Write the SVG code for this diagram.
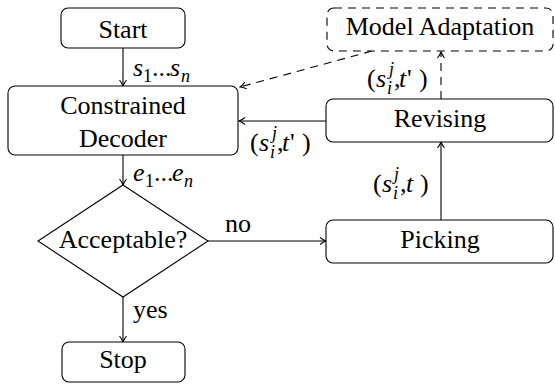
<svg xmlns="http://www.w3.org/2000/svg" width="555" height="385" viewBox="0 0 555 385" font-family="Liberation Serif" font-size="26">
<defs>
<marker id="arr" markerUnits="userSpaceOnUse" viewBox="-8 -5 9 10" markerWidth="9" markerHeight="10" refX="0" refY="0" orient="auto">
<path d="M-6,-3.5 Q-2.5,-0.8 0,0 Q-2.5,0.8 -6,3.5" fill="none" stroke="#000" stroke-width="1.1"/>
</marker>
</defs>
<rect width="555" height="385" fill="#fff"/>
<g id="connectors" fill="none" stroke="#000" stroke-width="1.1">
<line x1="123" y1="48" x2="123" y2="86" marker-end="url(#arr)"/>
<line x1="123" y1="155" x2="123" y2="185" marker-end="url(#arr)"/>
<line x1="123" y1="297" x2="123" y2="342" marker-end="url(#arr)"/>
<line x1="208" y1="241" x2="326" y2="241" marker-end="url(#arr)"/>
<line x1="441" y1="220" x2="441" y2="142" marker-end="url(#arr)"/>
<line x1="326" y1="121" x2="239" y2="121" marker-end="url(#arr)"/>
<line x1="441" y1="99" x2="441" y2="52" stroke-dasharray="8 6" marker-end="url(#arr)"/>
<line x1="372" y1="51" x2="240" y2="87" stroke-dasharray="8 6" marker-end="url(#arr)"/>
</g>
<g id="labels" fill="#000">
<text x="133" y="76" font-style="italic">s</text>
<text x="143" y="82" font-size="18">1</text>
<text x="152" y="76">...</text>
<text x="170" y="76" font-style="italic">s</text>
<text x="181" y="82" font-size="18" font-style="italic">n</text>
<text x="133" y="181" font-style="italic">e</text>
<text x="145" y="187" font-size="18">1</text>
<text x="154" y="181">...</text>
<text x="172" y="181" font-style="italic">e</text>
<text x="184" y="187" font-size="18" font-style="italic">n</text>
<text x="225" y="232">no</text>
<text x="133" y="318">yes</text>
<text x="373" y="192">(</text>
<text x="382" y="192" font-style="italic">s</text>
<text x="394" y="180" font-size="18" font-style="italic">j</text>
<text x="393" y="199" font-size="18" font-style="italic">i</text>
<text x="400" y="192">,</text>
<text x="406" y="192" font-style="italic">t</text>
<text x="420" y="192">)</text>
<text x="250" y="151">(</text>
<text x="259" y="151" font-style="italic">s</text>
<text x="272" y="139" font-size="18" font-style="italic">j</text>
<text x="270" y="158" font-size="18" font-style="italic">i</text>
<text x="277" y="151">,</text>
<text x="282" y="151" font-style="italic">t</text>
<text x="290" y="151">'</text>
<text x="302" y="151">)</text>
<text x="367" y="87">(</text>
<text x="376" y="87" font-style="italic">s</text>
<text x="389" y="75" font-size="18" font-style="italic">j</text>
<text x="387" y="94" font-size="18" font-style="italic">i</text>
<text x="394" y="87">,</text>
<text x="399" y="87" font-style="italic">t</text>
<text x="407" y="87">'</text>
<text x="419" y="87">)</text>
</g>
<g id="start">
<rect x="61" y="8" width="124" height="40" rx="7" fill="#fff" stroke="#000" stroke-width="1.1"/>
<text x="123" y="38" text-anchor="middle">Start</text>
</g>
<g id="decoder">
<rect x="8" y="86" width="230" height="69" rx="7" fill="#fff" stroke="#000" stroke-width="1.1"/>
<text x="123" y="114" text-anchor="middle">Constrained</text>
<text x="123" y="147" text-anchor="middle">Decoder</text>
</g>
<g id="decision">
<polygon points="123,185 208,241 123,297 38,241" fill="#fff" stroke="#000" stroke-width="1.1"/>
<text x="123" y="248" text-anchor="middle">Acceptable?</text>
</g>
<g id="stop">
<rect x="62" y="342" width="123" height="40" rx="7" fill="#fff" stroke="#000" stroke-width="1.1"/>
<text x="123" y="368" text-anchor="middle">Stop</text>
</g>
<g id="picking">
<rect x="326" y="220" width="227" height="43" rx="7" fill="#fff" stroke="#000" stroke-width="1.1"/>
<text x="440" y="248" text-anchor="middle">Picking</text>
</g>
<g id="revising">
<rect x="326" y="99" width="227" height="43" rx="7" fill="#fff" stroke="#000" stroke-width="1.1"/>
<text x="440" y="127" text-anchor="middle">Revising</text>
</g>
<g id="model">
<rect x="327" y="8" width="226" height="43" rx="7" fill="#fff" stroke="#000" stroke-width="1.1" stroke-dasharray="8 6"/>
<text x="440" y="35" text-anchor="middle">Model Adaptation</text>
</g>
</svg>
